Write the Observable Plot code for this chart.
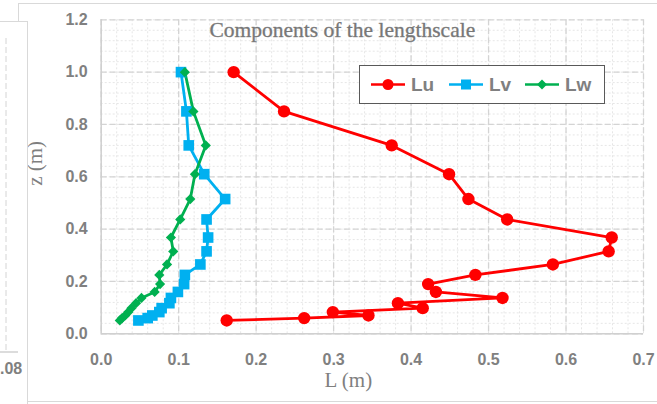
<!DOCTYPE html>
<html>
<head>
<meta charset="utf-8">
<script src="https://cdn.jsdelivr.net/npm/d3@7"></script>
<script src="https://cdn.jsdelivr.net/npm/@observablehq/plot@0.6"></script>
<style>
  html, body { margin: 0; padding: 0; background: #fff; }
  #wrap { position: relative; width: 657px; height: 404px; overflow: hidden; }
  #wrap svg.plot { position: absolute; left: 0; top: 0; }
  .panel { position: absolute; box-sizing: border-box; }
  #legend { position: absolute; left: 359px; top: 65px; width: 246px; height: 39px; box-sizing: border-box;
            border: 1.5px solid #595959; background: #fff; }
</style>
</head>
<body>
<div id="wrap"></div>
<script>
// ---- data ----
const series = ["Lu", "Lv", "Lw"];
const colors = ["#ff0000", "#00b0f0", "#00b050"];
const symbols = ["circle", "square", "diamond2"];
const z  = [1.0, 0.85, 0.72, 0.61, 0.515, 0.437, 0.368, 0.315, 0.265, 0.225, 0.19, 0.16, 0.137, 0.117, 0.098, 0.083, 0.07, 0.06, 0.051];
const Lu = [0.171, 0.236, 0.375, 0.449, 0.474, 0.524, 0.659, 0.655, 0.583, 0.483, 0.422, 0.432, 0.518, 0.383, 0.415, 0.299, 0.345, 0.262, 0.162];
const Lv = [0.103, 0.110, 0.113, 0.133, 0.160, 0.136, 0.138, 0.136, 0.128, 0.108, 0.107, 0.099, 0.090, 0.088, 0.078, 0.075, 0.066, 0.060, 0.048];
const Lw = [0.108, 0.119, 0.135, 0.121, 0.115, 0.102, 0.090, 0.093, 0.085, 0.075, 0.076, 0.069, 0.052, 0.045, 0.039, 0.035, 0.031, 0.027, 0.024];
const xTicks = [0, 0.1, 0.2, 0.3, 0.4, 0.5, 0.6, 0.7];
const yTicks = [0, 0.2, 0.4, 0.6, 0.8, 1.0, 1.2];
const title = "Components of the lengthscale";
const xLabel = "L (m)";
const yLabel = "z (m)";

const values = {Lu, Lv, Lw};
const rows = series.flatMap(s => values[s].map((L, i) => ({series: s, L, z: z[i]})));
const xMinor = d3.range(0, 0.7001, 0.02);
const yMinor = d3.range(0, 1.2001, 0.04);
const sizes = {Lu: 6.2, Lv: 6, Lw: 4.6};

const tickStyle = {fontFamily: "Liberation Sans, Arial, sans-serif", fontWeight: "bold", fontSize: 16, fill: "#808080"};

const plot = Plot.plot({
  width: 657, height: 404,
  marginLeft: 100.7, marginRight: 14, marginTop: 19.3, marginBottom: 70.7,
  style: {background: "transparent", overflow: "visible"},
  x: {domain: [0, 0.7]},
  y: {domain: [0, 1.2]},
  color: {domain: series, range: colors},
  symbol: {domain: series, range: symbols},
  marks: [
    Plot.gridX(xMinor, {stroke: "#e6e6e6", strokeOpacity: 1, strokeDasharray: "2,2"}),
    Plot.gridY(yMinor, {stroke: "#e6e6e6", strokeOpacity: 1, strokeDasharray: "2,2"}),
    Plot.gridX(xTicks, {stroke: "#d4d4d4", strokeOpacity: 1, strokeWidth: 1.3, strokeDasharray: "6,3"}),
    Plot.gridY(yTicks, {stroke: "#d4d4d4", strokeOpacity: 1, strokeWidth: 1.3, strokeDasharray: "6,3"}),
    Plot.ruleX([0], {stroke: "#d0d0d0", strokeWidth: 1.5}),
    Plot.ruleY([0], {stroke: "#d0d0d0", strokeWidth: 1.5}),
    Plot.axisX(xTicks, {tickSize: 0, tickPadding: 20, tickFormat: d3.format(".1f"), label: null, ...tickStyle}),
    Plot.axisY(yTicks, {tickSize: 0, tickPadding: 13.5, tickFormat: d3.format(".1f"), label: null, ...tickStyle}),
    Plot.line(rows, {x: "L", y: "z", z: "series", stroke: "series", strokeWidth: 2.8}),
    ...series.map(s => Plot.dot(rows.filter(d => d.series === s),
      {x: "L", y: "z", symbol: "series", fill: "series", stroke: "none", r: sizes[s]})),
    Plot.text([title], {frameAnchor: "top", dx: -30, dy: 17, lineAnchor: "bottom",
      fontFamily: "Liberation Serif, Times New Roman, serif", fontSize: 21.5, fill: "#777777",
      stroke: "#9a9a9a", strokeWidth: 0.4}),
    Plot.text([xLabel], {frameAnchor: "bottom", dx: -24, dy: 53.5, lineAnchor: "bottom",
      fontFamily: "Liberation Serif, Times New Roman, serif", fontSize: 21, fill: "#7f7f7f"}),
    Plot.text([yLabel], {frameAnchor: "left", dx: -66, dy: 9, rotate: -90,
      fontFamily: "Liberation Serif, Times New Roman, serif", fontSize: 21, fill: "#7f7f7f"})
  ]
});
plot.classList.add("plot");

const wrap = document.getElementById("wrap");
// outer chart border (main panel)
const main = document.createElement("div");
main.className = "panel";
Object.assign(main.style, {left: "17.5px", top: "3px", width: "660px", height: "398.5px", border: "1px solid #d9d9d9"});
wrap.appendChild(main);
wrap.appendChild(plot);

// partial neighbouring panel on the left edge
const left = document.createElement("div");
left.className = "panel";
Object.assign(left.style, {left: "-2px", top: "21px", width: "29.5px", height: "400px", borderTop: "1px solid #d9d9d9", borderRight: "1px solid #d9d9d9", background: "#fff"});
left.innerHTML = `<svg width="29" height="390" style="position:absolute;left:0;top:0">
  <line x1="8" x2="8" y1="16" y2="330" stroke="#d4d4d4" stroke-dasharray="6,3"/>
  <line x1="0" x2="20" y1="330" y2="330" stroke="#d0d0d0" stroke-width="1.5"/>
  </svg>`;
wrap.appendChild(left);
const frag = document.createElement("div");
Object.assign(frag.style, {position: "absolute", left: "0px", top: "360px", font: "bold 16px 'Liberation Sans', Arial, sans-serif", color: "#808080"});
frag.textContent = ".08";
wrap.appendChild(frag);

// legend
const legend = document.createElement("div");
legend.id = "legend";
const items = [
  {name: "Lu", color: colors[0], x: 12, shape: `<circle cx="17" cy="0" r="5.5"/>`},
  {name: "Lv", color: colors[1], x: 90, shape: `<rect x="12" y="-5" width="10" height="10"/>`},
  {name: "Lw", color: colors[2], x: 166, shape: `<path d="M17,-5 L22,0 L17,5 L12,0 Z"/>`}
];
legend.innerHTML = `<svg width="246" height="39" style="position:absolute;left:-1.5px;top:-1.5px">
  ${items.map(it => `<g transform="translate(${it.x},19.5)" fill="${it.color}">
      <line x1="0" x2="34" y1="0" y2="0" stroke="${it.color}" stroke-width="2.6"/>
      ${it.shape}
      <text x="40" y="6.5" fill="#808080" style="font: bold 19px 'Liberation Sans', Arial, sans-serif">${it.name}</text>
    </g>`).join("")}
</svg>`;
wrap.appendChild(legend);
</script>
</body>
</html>
